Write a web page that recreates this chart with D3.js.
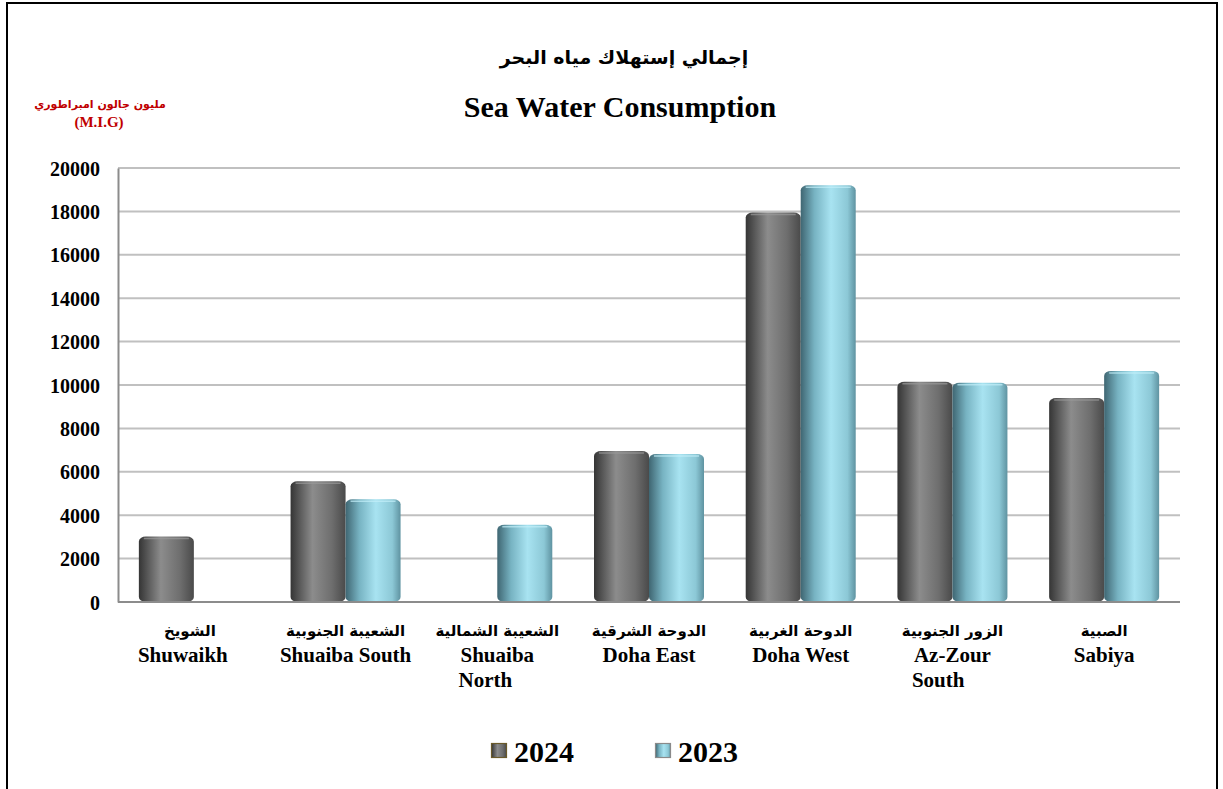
<!DOCTYPE html>
<html>
<head>
<meta charset="utf-8">
<title>Sea Water Consumption</title>
<script src="https://cdn.jsdelivr.net/npm/d3@7/dist/d3.min.js"></script>
<style>
  body { margin: 0; background: #fff; }
  svg text { font-family: "Liberation Serif", "DejaVu Sans", serif; font-weight: bold; }
  .ar { font-family: "DejaVu Sans", "Liberation Sans", sans-serif; }
</style>
</head>
<body>
<svg id="chart" width="1223" height="789"></svg>
<script>
var plantsAr = ["الشويخ", "الشعيبة الجنوبية", "الشعيبة الشمالية", "الدوحة الشرقية", "الدوحة الغربية", "الزور الجنوبية", "الصبية"];
var plantsEn = [["Shuwaikh"], ["Shuaiba South"], ["Shuaiba", "North"], ["Doha East"], ["Doha West"], ["Az-Zour", "South"], ["Sabiya"]];
var years = ["2024", "2023"];
var values2024 = [3020, 5560, 0, 6960, 17950, 10150, 9400];
var values2023 = [0, 4730, 3560, 6820, 19200, 10100, 10650];
var yTicks = [0, 2000, 4000, 6000, 8000, 10000, 12000, 14000, 16000, 18000, 20000];

var svg = d3.select("#chart");
var plotLeft = 118, plotRight = 1180, plotTop = 168, plotBottom = 602;

// outer frame
svg.append("rect").attr("x", 7).attr("y", 3).attr("width", 1210).attr("height", 800)
  .attr("fill", "none").attr("stroke", "#000").attr("stroke-width", 2);

var defs = svg.append("defs");
var gGray = defs.append("linearGradient").attr("id", "gGray");
[["0%", "#353535"], ["40%", "#8c8c8c"], ["75%", "#6e6e6e"], ["100%", "#4a4a4a"]].forEach(function(s) {
  gGray.append("stop").attr("offset", s[0]).attr("stop-color", s[1]);
});
var gBlue = defs.append("linearGradient").attr("id", "gBlue");
[["0%", "#3f6672"], ["25%", "#77b3c2"], ["55%", "#a8e3f1"], ["85%", "#8cc8d6"], ["100%", "#5f93a1"]].forEach(function(s) {
  gBlue.append("stop").attr("offset", s[0]).attr("stop-color", s[1]);
});
var fills = { "2024": "url(#gGray)", "2023": "url(#gBlue)" };

var x = d3.scaleBand().domain(plantsEn.map(function(d, i) { return i; })).range([plotLeft, plotRight]);
var xs = d3.scaleBand().domain(years).range([x.bandwidth() / 2 - 55, x.bandwidth() / 2 + 55]);
var y = d3.scaleLinear().domain([0, 20000]).range([plotBottom, plotTop]);

// gridlines
svg.append("g").selectAll("line").data(yTicks.slice(1)).enter().append("line")
  .attr("x1", plotLeft).attr("x2", plotRight)
  .attr("y1", function(d) { return y(d); }).attr("y2", function(d) { return y(d); })
  .attr("stroke", "#c0c0c0").attr("stroke-width", 2);

// y axis
var yAxis = svg.append("g").attr("transform", "translate(" + plotLeft + ",0)")
  .call(d3.axisLeft(y).tickValues(yTicks).tickSize(0).tickPadding(18).tickFormat(d3.format("d")));
yAxis.select(".domain").attr("stroke", "#8c8c8c").attr("stroke-width", 2);
yAxis.selectAll("text").attr("font-size", 20).attr("fill", "#000").attr("dy", "0.35em")
  .style("font-family", "'Liberation Serif', serif").style("font-weight", "bold");

// bars
var rows = plantsEn.map(function(d, i) { return { i: i, vals: { "2024": values2024[i], "2023": values2023[i] } }; });
var groups = svg.append("g").selectAll("g").data(rows).enter().append("g")
  .attr("transform", function(d) { return "translate(" + x(d.i) + ",0)"; });

groups.selectAll("g.bar").data(function(d) {
  return years.filter(function(k) { return d.vals[k] > 0; }).map(function(k) { return { key: k, v: d.vals[k] }; });
}).enter().append("g").attr("class", "bar").each(function(d) {
  var g = d3.select(this);
  var bx = xs(d.key), bw = xs.bandwidth(), by = y(d.v), bh = plotBottom - by;
  g.append("rect").attr("x", bx).attr("y", by).attr("width", bw).attr("height", bh)
    .attr("rx", 7).attr("ry", 5).attr("fill", fills[d.key]);
  g.append("line").attr("x1", bx + 5).attr("x2", bx + bw - 5)
    .attr("y1", by + 2).attr("y2", by + 2)
    .attr("stroke", d.key === "2024" ? "#9a9a9a" : "#c4f0fa").attr("stroke-width", 1.5).attr("opacity", 0.7);
});

// x axis line
svg.append("line").attr("x1", plotLeft).attr("x2", plotRight).attr("y1", plotBottom).attr("y2", plotBottom)
  .attr("stroke", "#8c8c8c").attr("stroke-width", 2);

// category labels
var labels = svg.append("g").selectAll("g").data(rows).enter().append("g")
  .attr("transform", function(d) { return "translate(" + (x(d.i) + x.bandwidth() / 2) + ",0)"; });
labels.append("text").attr("class", "ar").attr("y", 636).attr("text-anchor", "middle")
  .attr("font-size", 15).attr("direction", "rtl").text(function(d) { return plantsAr[d.i]; })
  .attr("x", function(d) { return d.i === 0 ? -4 : 0; });
labels.each(function(d) {
  var g = d3.select(this);
  var lines = plantsEn[d.i];
  var first = g.append("text").attr("y", 662).attr("text-anchor", "middle")
    .attr("font-size", 21).attr("x", d.i === 0 ? -11 : 0).text(lines[0]);
  if (lines.length > 1) {
    var w = first.node().getComputedTextLength();
    g.append("text").attr("y", 687).attr("x", -w / 2 - 2).attr("text-anchor", "start")
      .attr("font-size", 21).text(lines[1]);
  }
});

// titles
svg.append("text").attr("class", "ar").attr("x", 624).attr("y", 64).attr("text-anchor", "middle")
  .attr("font-size", 19).attr("direction", "rtl").text("إجمالي إستهلاك مياه البحر");
svg.append("text").attr("x", 620).attr("y", 117).attr("text-anchor", "middle")
  .attr("font-size", 30).text("Sea Water Consumption");

// unit label
svg.append("text").attr("class", "ar").attr("x", 100).attr("y", 108).attr("text-anchor", "middle")
  .attr("font-size", 11).attr("fill", "#c00000").attr("direction", "rtl").text("مليون جالون امبراطوري");
svg.append("text").attr("x", 99).attr("y", 127).attr("text-anchor", "middle")
  .attr("font-size", 15).attr("fill", "#c00000").text("(M.I.G)");

// legend
var legend = svg.append("g").selectAll("g").data(years).enter().append("g")
  .attr("transform", function(d, i) { return "translate(" + (491 + i * 164) + ",743)"; });
legend.append("rect").attr("x", 0.5).attr("y", 0.5).attr("width", 15).attr("height", 14)
  .attr("fill", function(d) { return fills[d]; })
  .attr("stroke", function(d) { return d === "2024" ? "#6b5a2a" : "#8a8a8a"; }).attr("stroke-width", 1.2);
legend.append("text").attr("x", 23).attr("y", 19).attr("font-size", 30).text(function(d) { return d; });
</script>
</body>
</html>
